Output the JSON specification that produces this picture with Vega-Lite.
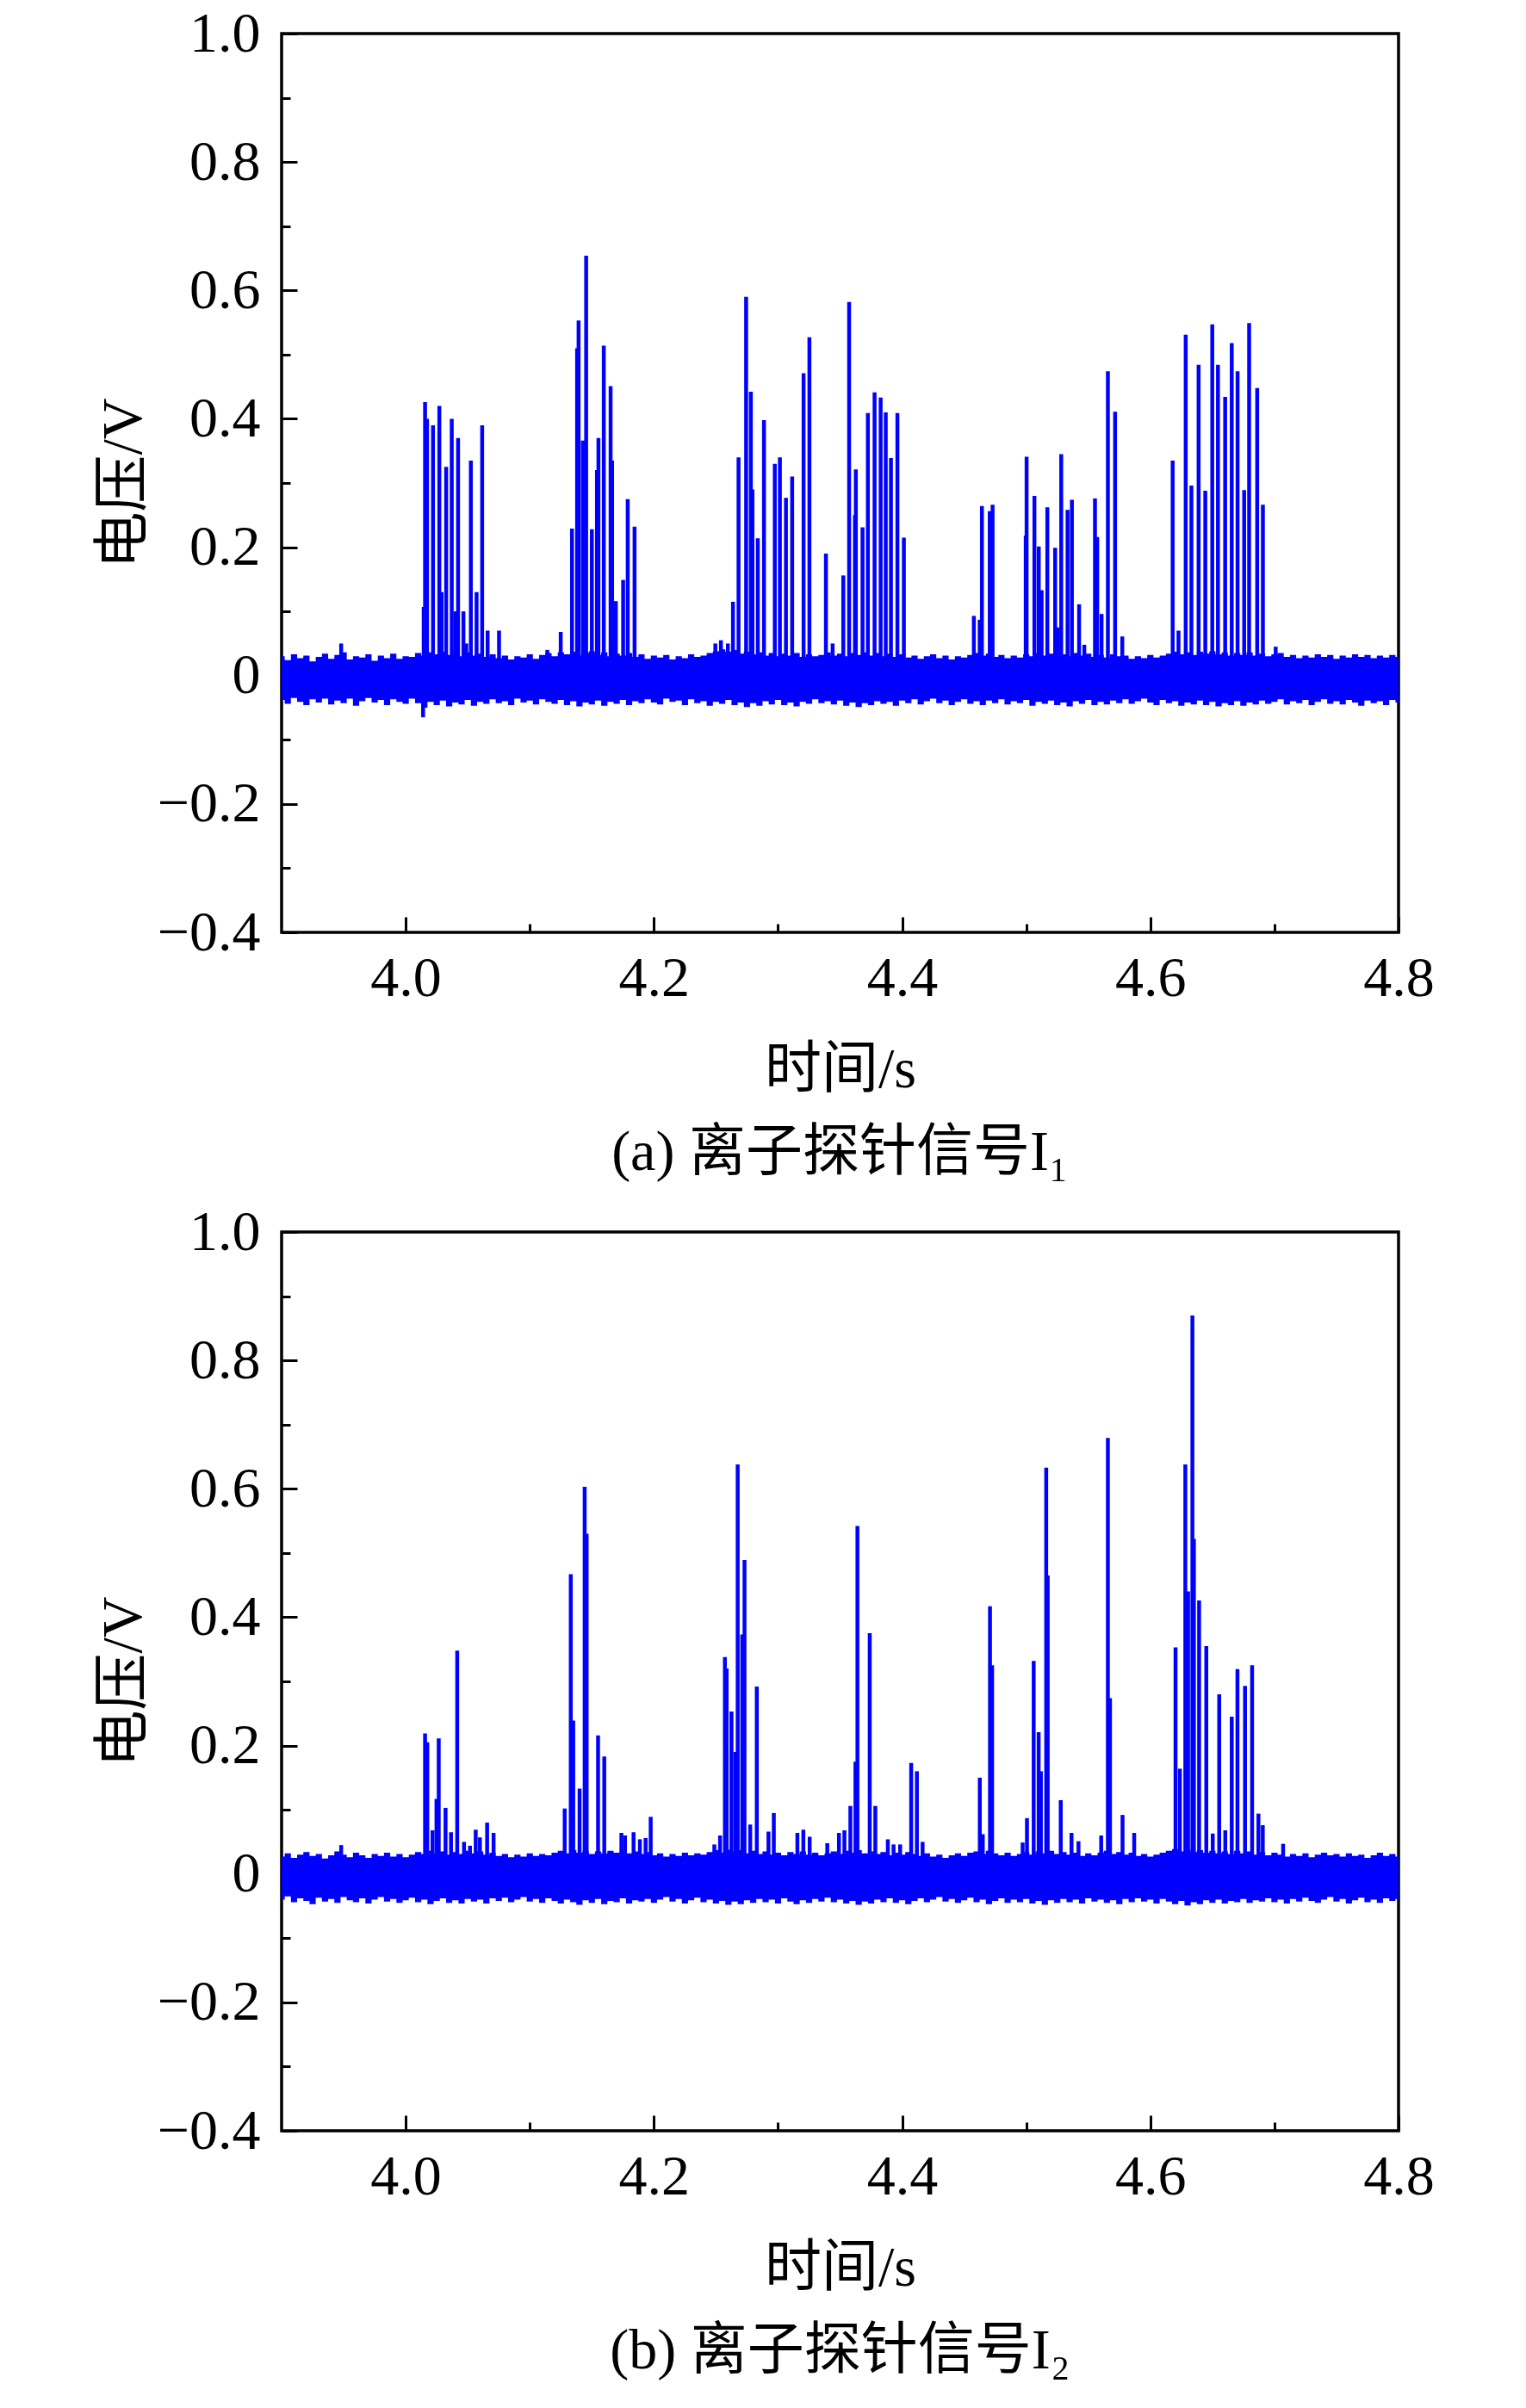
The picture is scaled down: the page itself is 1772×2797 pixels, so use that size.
{
  "$schema": "https://vega.github.io/schema/vega-lite/v6.json",
  "background": "white",
  "padding": {"left": 108, "top": 4, "right": 0, "bottom": 0},
  "spacing": 22,
  "config": {
    "font": "Liberation Serif, DejaVu Serif, Noto Sans CJK SC",
    "view": {"stroke": "black", "strokeWidth": 3.5},
    "axis": {
      "domain": false,
      "grid": false,
      "labelFlush": false,
      "tickColor": "black",
      "tickWidth": 3,
      "labelColor": "black",
      "labelFont": "Liberation Serif",
      "labelFontSize": 66,
      "titleColor": "black",
      "titleFont": "Liberation Serif, Noto Sans CJK SC",
      "titleFontSize": 66,
      "titleFontWeight": "normal"
    },
    "title": {
      "font": "Liberation Serif, DejaVu Serif, Noto Sans CJK SC",
      "fontSize": 66,
      "fontWeight": "normal",
      "color": "black"
    }
  },
  "datasets": {
    "noiseA": [
      {"t":3.900,"h":0.030,"l":-0.038},{"t":3.905,"h":0.024,"l":-0.044},{"t":3.910,"h":0.033,"l":-0.035},{"t":3.915,"h":0.027,"l":-0.041},
      {"t":3.920,"h":0.031,"l":-0.046},{"t":3.925,"h":0.022,"l":-0.037},{"t":3.930,"h":0.029,"l":-0.042},{"t":3.935,"h":0.034,"l":-0.036},
      {"t":3.940,"h":0.026,"l":-0.045},{"t":3.945,"h":0.032,"l":-0.039},{"t":3.950,"h":0.036,"l":-0.043},{"t":3.955,"h":0.025,"l":-0.036},
      {"t":3.960,"h":0.030,"l":-0.047},{"t":3.965,"h":0.028,"l":-0.040},{"t":3.970,"h":0.033,"l":-0.035},{"t":3.975,"h":0.023,"l":-0.042},
      {"t":3.980,"h":0.031,"l":-0.038},{"t":3.985,"h":0.027,"l":-0.046},{"t":3.990,"h":0.034,"l":-0.037},{"t":3.995,"h":0.026,"l":-0.041},
      {"t":4.000,"h":0.030,"l":-0.044},{"t":4.005,"h":0.029,"l":-0.036},{"t":4.010,"h":0.035,"l":-0.043},{"t":4.015,"h":0.031,"l":-0.050},
      {"t":4.020,"h":0.036,"l":-0.041},{"t":4.025,"h":0.033,"l":-0.046},{"t":4.030,"h":0.037,"l":-0.039},{"t":4.035,"h":0.032,"l":-0.048},
      {"t":4.040,"h":0.035,"l":-0.042},{"t":4.045,"h":0.030,"l":-0.045},{"t":4.050,"h":0.036,"l":-0.038},{"t":4.055,"h":0.031,"l":-0.047},
      {"t":4.060,"h":0.034,"l":-0.041},{"t":4.065,"h":0.029,"l":-0.044},{"t":4.070,"h":0.033,"l":-0.037},{"t":4.075,"h":0.027,"l":-0.043},
      {"t":4.080,"h":0.031,"l":-0.040},{"t":4.085,"h":0.025,"l":-0.046},{"t":4.090,"h":0.030,"l":-0.036},{"t":4.095,"h":0.028,"l":-0.042},
      {"t":4.100,"h":0.033,"l":-0.039},{"t":4.105,"h":0.026,"l":-0.045},{"t":4.110,"h":0.032,"l":-0.037},{"t":4.115,"h":0.035,"l":-0.041},
      {"t":4.120,"h":0.030,"l":-0.044},{"t":4.125,"h":0.036,"l":-0.038},{"t":4.130,"h":0.033,"l":-0.046},{"t":4.135,"h":0.037,"l":-0.040},
      {"t":4.140,"h":0.031,"l":-0.048},{"t":4.145,"h":0.035,"l":-0.042},{"t":4.150,"h":0.038,"l":-0.045},{"t":4.155,"h":0.032,"l":-0.039},
      {"t":4.160,"h":0.036,"l":-0.047},{"t":4.165,"h":0.030,"l":-0.041},{"t":4.170,"h":0.034,"l":-0.044},{"t":4.175,"h":0.031,"l":-0.038},
      {"t":4.180,"h":0.035,"l":-0.046},{"t":4.185,"h":0.029,"l":-0.040},{"t":4.190,"h":0.033,"l":-0.043},{"t":4.195,"h":0.026,"l":-0.037},
      {"t":4.200,"h":0.031,"l":-0.042},{"t":4.205,"h":0.028,"l":-0.045},{"t":4.210,"h":0.032,"l":-0.036},{"t":4.215,"h":0.025,"l":-0.041},
      {"t":4.220,"h":0.030,"l":-0.039},{"t":4.225,"h":0.027,"l":-0.046},{"t":4.230,"h":0.033,"l":-0.037},{"t":4.235,"h":0.029,"l":-0.043},
      {"t":4.240,"h":0.031,"l":-0.040},{"t":4.245,"h":0.035,"l":-0.047},{"t":4.250,"h":0.038,"l":-0.041},{"t":4.255,"h":0.041,"l":-0.044},
      {"t":4.260,"h":0.037,"l":-0.038},{"t":4.265,"h":0.040,"l":-0.046},{"t":4.270,"h":0.034,"l":-0.042},{"t":4.275,"h":0.037,"l":-0.049},
      {"t":4.280,"h":0.033,"l":-0.043},{"t":4.285,"h":0.036,"l":-0.047},{"t":4.290,"h":0.031,"l":-0.040},{"t":4.295,"h":0.035,"l":-0.045},
      {"t":4.300,"h":0.030,"l":-0.038},{"t":4.305,"h":0.034,"l":-0.046},{"t":4.310,"h":0.031,"l":-0.042},{"t":4.315,"h":0.035,"l":-0.048},
      {"t":4.320,"h":0.029,"l":-0.041},{"t":4.325,"h":0.033,"l":-0.044},{"t":4.330,"h":0.030,"l":-0.037},{"t":4.335,"h":0.032,"l":-0.043},
      {"t":4.340,"h":0.036,"l":-0.040},{"t":4.345,"h":0.031,"l":-0.045},{"t":4.350,"h":0.034,"l":-0.039},{"t":4.355,"h":0.030,"l":-0.047},
      {"t":4.360,"h":0.035,"l":-0.042},{"t":4.365,"h":0.032,"l":-0.049},{"t":4.370,"h":0.036,"l":-0.043},{"t":4.375,"h":0.031,"l":-0.046},
      {"t":4.380,"h":0.035,"l":-0.040},{"t":4.385,"h":0.030,"l":-0.044},{"t":4.390,"h":0.034,"l":-0.041},{"t":4.395,"h":0.029,"l":-0.047},
      {"t":4.400,"h":0.033,"l":-0.039},{"t":4.405,"h":0.028,"l":-0.043},{"t":4.410,"h":0.031,"l":-0.037},{"t":4.415,"h":0.026,"l":-0.045},
      {"t":4.420,"h":0.030,"l":-0.040},{"t":4.425,"h":0.033,"l":-0.036},{"t":4.430,"h":0.027,"l":-0.043},{"t":4.435,"h":0.031,"l":-0.039},
      {"t":4.440,"h":0.025,"l":-0.046},{"t":4.445,"h":0.030,"l":-0.041},{"t":4.450,"h":0.028,"l":-0.037},{"t":4.455,"h":0.032,"l":-0.044},
      {"t":4.460,"h":0.035,"l":-0.040},{"t":4.465,"h":0.031,"l":-0.046},{"t":4.470,"h":0.034,"l":-0.039},{"t":4.475,"h":0.029,"l":-0.043},
      {"t":4.480,"h":0.032,"l":-0.037},{"t":4.485,"h":0.027,"l":-0.045},{"t":4.490,"h":0.031,"l":-0.040},{"t":4.495,"h":0.028,"l":-0.043},
      {"t":4.500,"h":0.033,"l":-0.038},{"t":4.505,"h":0.030,"l":-0.047},{"t":4.510,"h":0.035,"l":-0.041},{"t":4.515,"h":0.031,"l":-0.044},
      {"t":4.520,"h":0.034,"l":-0.039},{"t":4.525,"h":0.029,"l":-0.046},{"t":4.530,"h":0.033,"l":-0.042},{"t":4.535,"h":0.030,"l":-0.048},
      {"t":4.540,"h":0.035,"l":-0.040},{"t":4.545,"h":0.031,"l":-0.044},{"t":4.550,"h":0.034,"l":-0.038},{"t":4.555,"h":0.029,"l":-0.046},
      {"t":4.560,"h":0.032,"l":-0.041},{"t":4.565,"h":0.028,"l":-0.045},{"t":4.570,"h":0.033,"l":-0.039},{"t":4.575,"h":0.030,"l":-0.043},
      {"t":4.580,"h":0.031,"l":-0.037},{"t":4.585,"h":0.026,"l":-0.044},{"t":4.590,"h":0.030,"l":-0.040},{"t":4.595,"h":0.027,"l":-0.036},
      {"t":4.600,"h":0.032,"l":-0.042},{"t":4.605,"h":0.028,"l":-0.046},{"t":4.610,"h":0.031,"l":-0.038},{"t":4.615,"h":0.034,"l":-0.043},
      {"t":4.620,"h":0.037,"l":-0.040},{"t":4.625,"h":0.033,"l":-0.047},{"t":4.630,"h":0.036,"l":-0.042},{"t":4.635,"h":0.032,"l":-0.045},
      {"t":4.640,"h":0.037,"l":-0.039},{"t":4.645,"h":0.034,"l":-0.046},{"t":4.650,"h":0.038,"l":-0.041},{"t":4.655,"h":0.033,"l":-0.048},
      {"t":4.660,"h":0.036,"l":-0.043},{"t":4.665,"h":0.031,"l":-0.046},{"t":4.670,"h":0.035,"l":-0.040},{"t":4.675,"h":0.032,"l":-0.047},
      {"t":4.680,"h":0.036,"l":-0.042},{"t":4.685,"h":0.031,"l":-0.045},{"t":4.690,"h":0.034,"l":-0.039},{"t":4.695,"h":0.030,"l":-0.044},
      {"t":4.700,"h":0.033,"l":-0.041},{"t":4.705,"h":0.035,"l":-0.037},{"t":4.710,"h":0.029,"l":-0.045},{"t":4.715,"h":0.032,"l":-0.040},
      {"t":4.720,"h":0.027,"l":-0.043},{"t":4.725,"h":0.031,"l":-0.038},{"t":4.730,"h":0.028,"l":-0.046},{"t":4.735,"h":0.033,"l":-0.041},
      {"t":4.740,"h":0.029,"l":-0.037},{"t":4.745,"h":0.032,"l":-0.044},{"t":4.750,"h":0.026,"l":-0.040},{"t":4.755,"h":0.031,"l":-0.045},
      {"t":4.760,"h":0.028,"l":-0.038},{"t":4.765,"h":0.033,"l":-0.042},{"t":4.770,"h":0.029,"l":-0.047},{"t":4.775,"h":0.032,"l":-0.039},
      {"t":4.780,"h":0.027,"l":-0.043},{"t":4.785,"h":0.031,"l":-0.040},{"t":4.790,"h":0.028,"l":-0.046},{"t":4.795,"h":0.032,"l":-0.038},
      {"t":4.800,"h":0.029,"l":-0.042}
    ],
    "spikesA": [
      {"t":3.948,"v":0.05},
      {"t":4.0140,"v":-0.065},{"t":4.0145,"v":0.107},{"t":4.0156,"v":0.426},{"t":4.0172,"v":0.40},{"t":4.0220,"v":0.39},
      {"t":4.0271,"v":0.42},{"t":4.0289,"v":0.13},{"t":4.0326,"v":0.325},{"t":4.0371,"v":0.40},{"t":4.0401,"v":0.10},
      {"t":4.0422,"v":0.37},{"t":4.0465,"v":0.10},{"t":4.0488,"v":0.05},{"t":4.0525,"v":0.335},{"t":4.0571,"v":0.13},
      {"t":4.0616,"v":0.39},{"t":4.0660,"v":0.07},{"t":4.0752,"v":0.07},
      {"t":4.1141,"v":0.04},{"t":4.1249,"v":0.068},{"t":4.1340,"v":0.229},{"t":4.1381,"v":0.51},{"t":4.1393,"v":0.553},
      {"t":4.1427,"v":0.366},{"t":4.1454,"v":0.654},{"t":4.1500,"v":0.228},{"t":4.1541,"v":0.32},{"t":4.1553,"v":0.37},
      {"t":4.1596,"v":0.514},{"t":4.1651,"v":0.451},{"t":4.1663,"v":0.335},{"t":4.1693,"v":0.116},{"t":4.1752,"v":0.149},
      {"t":4.1789,"v":0.275},{"t":4.1844,"v":0.232},
      {"t":4.2495,"v":0.05},{"t":4.2540,"v":0.055},{"t":4.2596,"v":0.05},{"t":4.2637,"v":0.115},{"t":4.2682,"v":0.34},
      {"t":4.2743,"v":0.59},{"t":4.2781,"v":0.442},{"t":4.2794,"v":0.29},{"t":4.2837,"v":0.214},{"t":4.2887,"v":0.398},
      {"t":4.2974,"v":0.33},{"t":4.3015,"v":0.34},{"t":4.3064,"v":0.277},{"t":4.3114,"v":0.31},{"t":4.3206,"v":0.471},
      {"t":4.3253,"v":0.527},{"t":4.3386,"v":0.19},{"t":4.3440,"v":0.05},{"t":4.3526,"v":0.156},{"t":4.3573,"v":0.582},
      {"t":4.3620,"v":0.25},{"t":4.3627,"v":0.321},{"t":4.3681,"v":0.231},{"t":4.3724,"v":0.409},{"t":4.3778,"v":0.441},
      {"t":4.3827,"v":0.433},{"t":4.3868,"v":0.41},{"t":4.3910,"v":0.339},{"t":4.3962,"v":0.409},{"t":4.4014,"v":0.215},
      {"t":4.4578,"v":0.093},{"t":4.4625,"v":0.087},{"t":4.4643,"v":0.264},{"t":4.4706,"v":0.256},{"t":4.4729,"v":0.266},
      {"t":4.4996,"v":0.218},{"t":4.5003,"v":0.341},{"t":4.5066,"v":0.28},{"t":4.5101,"v":0.201},{"t":4.5124,"v":0.133},
      {"t":4.5170,"v":0.262},{"t":4.5233,"v":0.199},{"t":4.5252,"v":0.075},{"t":4.5282,"v":0.345},{"t":4.5333,"v":0.258},
      {"t":4.5368,"v":0.274},{"t":4.5426,"v":0.111},{"t":4.5468,"v":0.048},{"t":4.5554,"v":0.276},{"t":4.5572,"v":0.216},
      {"t":4.5607,"v":0.096},{"t":4.5658,"v":0.474},{"t":4.5716,"v":0.411},{"t":4.5774,"v":0.061},
      {"t":4.6180,"v":0.335},{"t":4.6227,"v":0.07},{"t":4.6285,"v":0.531},{"t":4.6331,"v":0.296},{"t":4.6389,"v":0.484},
      {"t":4.6443,"v":0.288},{"t":4.6499,"v":0.547},{"t":4.6545,"v":0.484},{"t":4.6603,"v":0.434},{"t":4.6656,"v":0.518},
      {"t":4.6703,"v":0.474},{"t":4.6756,"v":0.289},{"t":4.6796,"v":0.549},{"t":4.6861,"v":0.448},{"t":4.6907,"v":0.266},
      {"t":4.7010,"v":0.045}
    ],
    "noiseB": [
      {"t":3.900,"h":0.027,"l":-0.040},{"t":3.905,"h":0.032,"l":-0.035},{"t":3.910,"h":0.025,"l":-0.044},{"t":3.915,"h":0.030,"l":-0.038},
      {"t":3.920,"h":0.034,"l":-0.042},{"t":3.925,"h":0.028,"l":-0.047},{"t":3.930,"h":0.031,"l":-0.037},{"t":3.935,"h":0.024,"l":-0.043},
      {"t":3.940,"h":0.029,"l":-0.039},{"t":3.945,"h":0.035,"l":-0.045},{"t":3.950,"h":0.030,"l":-0.036},{"t":3.955,"h":0.026,"l":-0.041},
      {"t":3.960,"h":0.033,"l":-0.044},{"t":3.965,"h":0.029,"l":-0.038},{"t":3.970,"h":0.025,"l":-0.046},{"t":3.975,"h":0.031,"l":-0.040},
      {"t":3.980,"h":0.028,"l":-0.036},{"t":3.985,"h":0.033,"l":-0.043},{"t":3.990,"h":0.027,"l":-0.039},{"t":3.995,"h":0.031,"l":-0.045},
      {"t":4.000,"h":0.026,"l":-0.041},{"t":4.005,"h":0.030,"l":-0.037},{"t":4.010,"h":0.034,"l":-0.044},{"t":4.015,"h":0.031,"l":-0.040},
      {"t":4.020,"h":0.036,"l":-0.047},{"t":4.025,"h":0.032,"l":-0.042},{"t":4.030,"h":0.035,"l":-0.038},{"t":4.035,"h":0.030,"l":-0.045},
      {"t":4.040,"h":0.034,"l":-0.041},{"t":4.045,"h":0.031,"l":-0.046},{"t":4.050,"h":0.036,"l":-0.039},{"t":4.055,"h":0.032,"l":-0.043},
      {"t":4.060,"h":0.035,"l":-0.040},{"t":4.065,"h":0.030,"l":-0.046},{"t":4.070,"h":0.033,"l":-0.038},{"t":4.075,"h":0.028,"l":-0.042},
      {"t":4.080,"h":0.031,"l":-0.037},{"t":4.085,"h":0.026,"l":-0.044},{"t":4.090,"h":0.030,"l":-0.040},{"t":4.095,"h":0.027,"l":-0.036},
      {"t":4.100,"h":0.032,"l":-0.043},{"t":4.105,"h":0.028,"l":-0.039},{"t":4.110,"h":0.031,"l":-0.045},{"t":4.115,"h":0.029,"l":-0.038},
      {"t":4.120,"h":0.033,"l":-0.042},{"t":4.125,"h":0.036,"l":-0.046},{"t":4.130,"h":0.032,"l":-0.040},{"t":4.135,"h":0.037,"l":-0.044},
      {"t":4.140,"h":0.033,"l":-0.048},{"t":4.145,"h":0.036,"l":-0.041},{"t":4.150,"h":0.031,"l":-0.045},{"t":4.155,"h":0.035,"l":-0.039},
      {"t":4.160,"h":0.032,"l":-0.047},{"t":4.165,"h":0.036,"l":-0.042},{"t":4.170,"h":0.033,"l":-0.044},{"t":4.175,"h":0.037,"l":-0.038},
      {"t":4.180,"h":0.032,"l":-0.046},{"t":4.185,"h":0.035,"l":-0.041},{"t":4.190,"h":0.031,"l":-0.043},{"t":4.195,"h":0.034,"l":-0.039},
      {"t":4.200,"h":0.029,"l":-0.045},{"t":4.205,"h":0.032,"l":-0.040},{"t":4.210,"h":0.027,"l":-0.036},{"t":4.215,"h":0.031,"l":-0.043},
      {"t":4.220,"h":0.028,"l":-0.039},{"t":4.225,"h":0.033,"l":-0.046},{"t":4.230,"h":0.029,"l":-0.041},{"t":4.235,"h":0.032,"l":-0.037},
      {"t":4.240,"h":0.030,"l":-0.044},{"t":4.245,"h":0.034,"l":-0.040},{"t":4.250,"h":0.037,"l":-0.046},{"t":4.255,"h":0.033,"l":-0.042},
      {"t":4.260,"h":0.038,"l":-0.048},{"t":4.265,"h":0.034,"l":-0.043},{"t":4.270,"h":0.037,"l":-0.047},{"t":4.275,"h":0.032,"l":-0.041},
      {"t":4.280,"h":0.036,"l":-0.045},{"t":4.285,"h":0.031,"l":-0.039},{"t":4.290,"h":0.035,"l":-0.044},{"t":4.295,"h":0.030,"l":-0.040},
      {"t":4.300,"h":0.033,"l":-0.046},{"t":4.305,"h":0.029,"l":-0.038},{"t":4.310,"h":0.034,"l":-0.043},{"t":4.315,"h":0.031,"l":-0.047},
      {"t":4.320,"h":0.035,"l":-0.041},{"t":4.325,"h":0.030,"l":-0.045},{"t":4.330,"h":0.033,"l":-0.039},{"t":4.335,"h":0.029,"l":-0.043},
      {"t":4.340,"h":0.032,"l":-0.037},{"t":4.345,"h":0.035,"l":-0.044},{"t":4.350,"h":0.031,"l":-0.040},{"t":4.355,"h":0.036,"l":-0.046},
      {"t":4.360,"h":0.033,"l":-0.042},{"t":4.365,"h":0.037,"l":-0.048},{"t":4.370,"h":0.032,"l":-0.043},{"t":4.375,"h":0.035,"l":-0.046},
      {"t":4.380,"h":0.031,"l":-0.040},{"t":4.385,"h":0.034,"l":-0.044},{"t":4.390,"h":0.029,"l":-0.038},{"t":4.395,"h":0.033,"l":-0.045},
      {"t":4.400,"h":0.030,"l":-0.041},{"t":4.405,"h":0.034,"l":-0.047},{"t":4.410,"h":0.031,"l":-0.042},{"t":4.415,"h":0.028,"l":-0.038},
      {"t":4.420,"h":0.032,"l":-0.044},{"t":4.425,"h":0.027,"l":-0.040},{"t":4.430,"h":0.030,"l":-0.036},{"t":4.435,"h":0.025,"l":-0.043},
      {"t":4.440,"h":0.029,"l":-0.039},{"t":4.445,"h":0.032,"l":-0.045},{"t":4.450,"h":0.028,"l":-0.041},{"t":4.455,"h":0.033,"l":-0.037},
      {"t":4.460,"h":0.035,"l":-0.044},{"t":4.465,"h":0.031,"l":-0.040},{"t":4.470,"h":0.036,"l":-0.047},{"t":4.475,"h":0.032,"l":-0.042},
      {"t":4.480,"h":0.029,"l":-0.038},{"t":4.485,"h":0.033,"l":-0.045},{"t":4.490,"h":0.028,"l":-0.040},{"t":4.495,"h":0.031,"l":-0.044},
      {"t":4.500,"h":0.034,"l":-0.039},{"t":4.505,"h":0.030,"l":-0.046},{"t":4.510,"h":0.035,"l":-0.042},{"t":4.515,"h":0.032,"l":-0.048},
      {"t":4.520,"h":0.036,"l":-0.041},{"t":4.525,"h":0.031,"l":-0.045},{"t":4.530,"h":0.034,"l":-0.039},{"t":4.535,"h":0.030,"l":-0.044},
      {"t":4.540,"h":0.033,"l":-0.040},{"t":4.545,"h":0.028,"l":-0.046},{"t":4.550,"h":0.032,"l":-0.038},{"t":4.555,"h":0.029,"l":-0.043},
      {"t":4.560,"h":0.033,"l":-0.040},{"t":4.565,"h":0.036,"l":-0.045},{"t":4.570,"h":0.031,"l":-0.041},{"t":4.575,"h":0.034,"l":-0.047},
      {"t":4.580,"h":0.030,"l":-0.039},{"t":4.585,"h":0.033,"l":-0.044},{"t":4.590,"h":0.028,"l":-0.038},{"t":4.595,"h":0.031,"l":-0.043},
      {"t":4.600,"h":0.027,"l":-0.040},{"t":4.605,"h":0.030,"l":-0.046},{"t":4.610,"h":0.033,"l":-0.039},{"t":4.615,"h":0.036,"l":-0.043},
      {"t":4.620,"h":0.039,"l":-0.047},{"t":4.625,"h":0.035,"l":-0.042},{"t":4.630,"h":0.038,"l":-0.049},{"t":4.635,"h":0.034,"l":-0.044},
      {"t":4.640,"h":0.037,"l":-0.047},{"t":4.645,"h":0.033,"l":-0.041},{"t":4.650,"h":0.036,"l":-0.045},{"t":4.655,"h":0.032,"l":-0.040},
      {"t":4.660,"h":0.035,"l":-0.046},{"t":4.665,"h":0.031,"l":-0.042},{"t":4.670,"h":0.036,"l":-0.044},{"t":4.675,"h":0.032,"l":-0.039},
      {"t":4.680,"h":0.035,"l":-0.045},{"t":4.685,"h":0.030,"l":-0.041},{"t":4.690,"h":0.034,"l":-0.043},{"t":4.695,"h":0.029,"l":-0.038},
      {"t":4.700,"h":0.033,"l":-0.044},{"t":4.705,"h":0.030,"l":-0.040},{"t":4.710,"h":0.027,"l":-0.046},{"t":4.715,"h":0.031,"l":-0.039},
      {"t":4.720,"h":0.028,"l":-0.043},{"t":4.725,"h":0.032,"l":-0.037},{"t":4.730,"h":0.026,"l":-0.042},{"t":4.735,"h":0.030,"l":-0.045},
      {"t":4.740,"h":0.033,"l":-0.040},{"t":4.745,"h":0.029,"l":-0.036},{"t":4.750,"h":0.031,"l":-0.043},{"t":4.755,"h":0.027,"l":-0.039},
      {"t":4.760,"h":0.032,"l":-0.046},{"t":4.765,"h":0.028,"l":-0.041},{"t":4.770,"h":0.030,"l":-0.037},{"t":4.775,"h":0.025,"l":-0.044},
      {"t":4.780,"h":0.029,"l":-0.040},{"t":4.785,"h":0.033,"l":-0.045},{"t":4.790,"h":0.028,"l":-0.038},{"t":4.795,"h":0.031,"l":-0.042},
      {"t":4.800,"h":0.027,"l":-0.039}
    ],
    "spikesB": [
      {"t":3.948,"v":0.045},
      {"t":4.0156,"v":0.219},{"t":4.0174,"v":0.205},{"t":4.0216,"v":0.068},{"t":4.0248,"v":0.117},{"t":4.0266,"v":0.211},
      {"t":4.0321,"v":0.103},{"t":4.0365,"v":0.065},{"t":4.0415,"v":0.348},{"t":4.0470,"v":0.05},{"t":4.0518,"v":0.044},
      {"t":4.0564,"v":0.069},{"t":4.0598,"v":0.057},{"t":4.0656,"v":0.08},{"t":4.0708,"v":0.064},
      {"t":4.1281,"v":0.102},{"t":4.1330,"v":0.467},{"t":4.1350,"v":0.239},{"t":4.1401,"v":0.133},{"t":4.1442,"v":0.603},
      {"t":4.1458,"v":0.53},{"t":4.1550,"v":0.216},{"t":4.1600,"v":0.183},{"t":4.1738,"v":0.064},{"t":4.1767,"v":0.06},
      {"t":4.1836,"v":0.065},{"t":4.1887,"v":0.054},{"t":4.1933,"v":0.056},{"t":4.1974,"v":0.089},
      {"t":4.2487,"v":0.046},{"t":4.2533,"v":0.06},{"t":4.2572,"v":0.338},{"t":4.2586,"v":0.32},{"t":4.2625,"v":0.253},
      {"t":4.2657,"v":0.19},{"t":4.2675,"v":0.638},{"t":4.2712,"v":0.373},{"t":4.2730,"v":0.489},{"t":4.2776,"v":0.077},
      {"t":4.2829,"v":0.292},{"t":4.2923,"v":0.066},{"t":4.2966,"v":0.095},{"t":4.3156,"v":0.064},{"t":4.3204,"v":0.069},
      {"t":4.3255,"v":0.058},{"t":4.3397,"v":0.048},{"t":4.3491,"v":0.064},{"t":4.3535,"v":0.068},{"t":4.3583,"v":0.106},
      {"t":4.3624,"v":0.175},{"t":4.3640,"v":0.542},{"t":4.3739,"v":0.375},{"t":4.3784,"v":0.106},{"t":4.3885,"v":0.054},
      {"t":4.3931,"v":0.046},{"t":4.3984,"v":0.046},{"t":4.4073,"v":0.173},{"t":4.4119,"v":0.16},{"t":4.4165,"v":0.05},
      {"t":4.4626,"v":0.15},{"t":4.4650,"v":0.062},{"t":4.4708,"v":0.417},{"t":4.4725,"v":0.325},{"t":4.4971,"v":0.049},
      {"t":4.5006,"v":0.087},{"t":4.5060,"v":0.332},{"t":4.5100,"v":0.221},{"t":4.5118,"v":0.16},{"t":4.5161,"v":0.633},
      {"t":4.5173,"v":0.465},{"t":4.5278,"v":0.115},{"t":4.5365,"v":0.064},{"t":4.5421,"v":0.051},{"t":4.5604,"v":0.06},
      {"t":4.5658,"v":0.679},{"t":4.5675,"v":0.274},{"t":4.5776,"v":0.092},{"t":4.5870,"v":0.064},
      {"t":4.6203,"v":0.353},{"t":4.6238,"v":0.164},{"t":4.6282,"v":0.638},{"t":4.6304,"v":0.44},{"t":4.6339,"v":0.870},
      {"t":4.6351,"v":0.522},{"t":4.6393,"v":0.426},{"t":4.6451,"v":0.355},{"t":4.6503,"v":0.063},{"t":4.6555,"v":0.28},
      {"t":4.6604,"v":0.068},{"t":4.6656,"v":0.245},{"t":4.6702,"v":0.319},{"t":4.6763,"v":0.293},{"t":4.6820,"v":0.325},
      {"t":4.6871,"v":0.094},{"t":4.6906,"v":0.076},{"t":4.7070,"v":0.047}
    ]
  },
  "vconcat": [
    {
      "width": 1297,
      "height": 1044,
      "title": {"text": "(a) 离子探针信号I₁", "orient": "bottom", "frame": "group", "anchor": "middle", "offset": 32},
      "layer": [
        {
          "data": {"name": "noiseA"},
          "mark": {"type": "area", "color": "#0000ff", "opacity": 1, "interpolate": "step"},
          "encoding": {
            "x": {"field": "t", "type": "quantitative", "scale": {"domain": [3.9, 4.8], "nice": false, "zero": false},
                  "axis": {"orient": "bottom", "values": [4.0, 4.2, 4.4, 4.6, 4.8], "format": ".1f", "title": "时间/s", "tickSize": -18, "labelPadding": 39, "titlePadding": 41}},
            "y": {"field": "h", "type": "quantitative", "scale": {"domain": [-0.4, 1.0], "nice": false, "zero": false},
                  "axis": {"orient": "left", "values": [-0.4, -0.2, 0, 0.2, 0.4, 0.6, 0.8, 1.0], "labelExpr": "datum.value == 0 ? '0' : format(datum.value, '.1f')", "title": "电压/V", "tickSize": -18, "labelPadding": 43, "titlePadding": 5}},
            "y2": {"field": "l"}
          }
        },
        {
          "data": {"name": "spikesA"},
          "mark": {"type": "rule", "color": "#0000ff", "strokeWidth": 4.5},
          "encoding": {
            "x": {"field": "t", "type": "quantitative", "scale": {"domain": [3.9, 4.8], "nice": false, "zero": false},
                  "axis": {"orient": "bottom", "values": [4.1, 4.3, 4.5, 4.7], "labels": false, "title": null, "tickSize": -10}},
            "y": {"field": "v", "type": "quantitative", "scale": {"domain": [-0.4, 1.0], "nice": false, "zero": false},
                  "axis": {"orient": "left", "values": [-0.3, -0.1, 0.1, 0.3, 0.5, 0.7, 0.9], "labels": false, "title": null, "tickSize": -10}},
            "y2": {"datum": 0}
          }
        }
      ],
      "resolve": {"axis": {"x": "independent", "y": "independent"}}
    },
    {
      "width": 1297,
      "height": 1044,
      "title": {"text": "(b) 离子探针信号I₂", "orient": "bottom", "frame": "group", "anchor": "middle", "offset": 32},
      "layer": [
        {
          "data": {"name": "noiseB"},
          "mark": {"type": "area", "color": "#0000ff", "opacity": 1, "interpolate": "step"},
          "encoding": {
            "x": {"field": "t", "type": "quantitative", "scale": {"domain": [3.9, 4.8], "nice": false, "zero": false},
                  "axis": {"orient": "bottom", "values": [4.0, 4.2, 4.4, 4.6, 4.8], "format": ".1f", "title": "时间/s", "tickSize": -18, "labelPadding": 39, "titlePadding": 41}},
            "y": {"field": "h", "type": "quantitative", "scale": {"domain": [-0.4, 1.0], "nice": false, "zero": false},
                  "axis": {"orient": "left", "values": [-0.4, -0.2, 0, 0.2, 0.4, 0.6, 0.8, 1.0], "labelExpr": "datum.value == 0 ? '0' : format(datum.value, '.1f')", "title": "电压/V", "tickSize": -18, "labelPadding": 43, "titlePadding": 5}},
            "y2": {"field": "l"}
          }
        },
        {
          "data": {"name": "spikesB"},
          "mark": {"type": "rule", "color": "#0000ff", "strokeWidth": 4.5},
          "encoding": {
            "x": {"field": "t", "type": "quantitative", "scale": {"domain": [3.9, 4.8], "nice": false, "zero": false},
                  "axis": {"orient": "bottom", "values": [4.1, 4.3, 4.5, 4.7], "labels": false, "title": null, "tickSize": -10}},
            "y": {"field": "v", "type": "quantitative", "scale": {"domain": [-0.4, 1.0], "nice": false, "zero": false},
                  "axis": {"orient": "left", "values": [-0.3, -0.1, 0.1, 0.3, 0.5, 0.7, 0.9], "labels": false, "title": null, "tickSize": -10}},
            "y2": {"datum": 0}
          }
        }
      ],
      "resolve": {"axis": {"x": "independent", "y": "independent"}}
    }
  ]
}
